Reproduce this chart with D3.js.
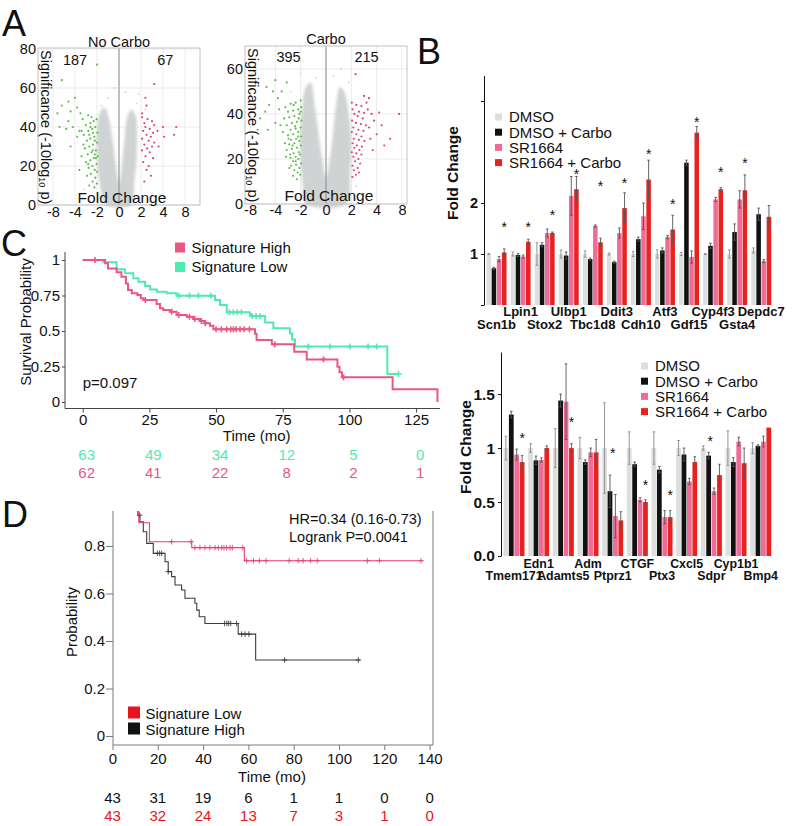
<!DOCTYPE html>
<html><head><meta charset="utf-8">
<script src="https://cdn.jsdelivr.net/npm/d3@7"></script>
<style>body{margin:0;background:#fff}svg{display:block}</style>
</head><body><svg id="chart" width="793" height="826"></svg>
<script>
// ---------------- DATA ----------------
// Panel A (volcano): x in log2 fold-change units, y = significance
const volcanoTickVals = [-3,-2,-1,0,1,2,3];
const volcanoTickLabels = ["-8","-4","-2","0","2","4","8"];
const noCarboYTicks = [0,20,40,60,80];
const carboYTicks = [0,20,40,60];
const noCarboCounts = [187, 67];
const carboCounts = [395, 215];
const noCarboCloud = [[-0.6,0],[-0.8,6],[-0.92,14],[-1.0,24],[-1.02,34],[-0.98,42],[-0.85,48],[-0.65,50],[-0.45,44],[-0.3,34],[-0.18,24],[-0.08,15],[0,11],[0.08,15],[0.16,24],[0.25,34],[0.35,44],[0.55,49],[0.75,46],[0.82,36],[0.8,24],[0.7,12],[0.55,0]];
const carboCloud = [[-0.8,0],[-0.92,8],[-1.0,18],[-1.02,30],[-0.95,42],[-0.8,52],[-0.6,54],[-0.45,44],[-0.3,32],[-0.15,20],[0,12],[0.15,20],[0.28,32],[0.4,44],[0.55,52],[0.72,50],[0.9,40],[1.0,28],[0.95,14],[0.8,0]];
const noCarboSpecks = [[-0.5,55],[0.3,58],[0.8,52],[-0.8,51],[1.2,49],[-1.6,8],[1.5,6],[0.9,57],[-0.2,60]];
const carboSpecks = [[-1.0,58],[-0.4,56],[0.3,57],[0.9,54],[-1.4,50],[1.2,8],[-1.3,5],[0.6,60]];
const noCarboGreen = [[-1.02,44],[-1.15,43],[-1.3,42],[-1.5,41],[-1.08,40],[-1.22,39],[-1.4,38],[-0.98,37],[-1.6,36],[-1.12,35],[-1.3,34],[-1.45,33],[-1.0,32],[-1.18,31],[-1.35,30],[-1.55,29],[-1.05,28],[-1.25,27],[-1.42,26],[-0.97,25],[-1.15,24],[-1.3,23],[-1.5,22],[-1.02,21],[-1.2,20],[-1.38,19],[-1.1,18],[-0.99,17],[-1.28,16],[-1.45,15],[-1.08,14],[-1.2,12],[-1.0,11],[-1.35,10],[-1.12,9],[-1.65,44],[-1.7,38],[-1.62,31],[-1.25,45],[-1.4,46],[-1.1,33],[-1.35,36],[-1.2,28],[-1.05,24],[-1.4,21],[-1.1,26],[-1.3,40],[-1.18,37],[-2.0,55],[-2.3,53],[-2.6,51],[-1.9,50],[-2.2,48],[-2.8,47],[-1.75,47],[-2.1,40],[-1.8,38],[-2.4,39],[-2.7,40],[-1.9,35],[-2.2,30],[-1.7,25],[-2.6,64],[-1.0,72],[-1.8,18],[-2.3,43]];
const noCarboPink = [[1.05,45],[1.3,44],[1.5,43],[1.15,42],[1.6,41],[1.2,40],[1.4,39],[1.1,38],[1.55,37],[1.25,36],[1.45,35],[1.05,34],[1.35,33],[1.6,32],[1.15,31],[1.5,30],[1.28,29],[1.05,28],[1.4,27],[1.2,25],[1.55,24],[1.1,22],[1.35,20],[1.25,18],[1.45,15],[1.15,12],[1.2,55],[1.25,51],[1.6,62],[1.05,47],[2.0,40],[2.05,35],[2.5,36],[2.6,40],[1.75,38],[1.8,30]];
const carboGreen = [[-1.0,46],[-1.2,45],[-1.4,44.5],[-0.98,43],[-1.1,42],[-1.3,41.5],[-1.5,41],[-1.05,40],[-1.25,39],[-1.45,38.5],[-0.97,37],[-1.15,36.5],[-1.35,36],[-1.55,35],[-1.0,34],[-1.2,33.5],[-1.4,33],[-1.1,32],[-1.3,31],[-1.5,30.5],[-0.98,30],[-1.18,29],[-1.38,28.5],[-1.05,28],[-1.25,27],[-1.45,26.5],[-0.99,26],[-1.15,25],[-1.35,24.5],[-1.55,24],[-1.08,23],[-1.28,22.5],[-1.02,22],[-1.2,21],[-1.4,20.5],[-1.1,20],[-1.3,19],[-0.98,18],[-1.18,17.5],[-1.38,17],[-1.05,16],[-1.25,15],[-1.12,14],[-1.02,13],[-1.3,12.5],[-1.15,11],[-1.6,43],[-1.65,38],[-1.7,32],[-1.62,27],[-1.58,21],[-1.45,16],[-1.08,38],[-1.22,34.5],[-1.32,26],[-1.1,30],[-1.2,19],[-1.42,22],[-1.0,41],[-1.28,44],[-1.48,29],[-1.9,47],[-2.1,50],[-2.0,55],[-2.35,52],[-1.75,50],[-2.25,44],[-2.4,41],[-1.85,42],[-2.6,38],[-2.0,36],[-2.3,33],[-1.8,35],[-2.7,33],[-1.55,54]];
const carboPink = [[1.02,45],[1.2,44],[1.4,43.5],[1.05,42],[1.3,41],[1.5,40.5],[1.12,40],[1.25,39],[1.45,38],[1.03,37],[1.18,36],[1.38,35.5],[1.58,35],[1.08,34],[1.28,33],[1.48,32.5],[1.02,32],[1.2,31],[1.4,30],[1.1,29],[1.3,28.5],[1.52,28],[1.05,27],[1.22,26],[1.42,25.5],[1.12,25],[1.32,24],[1.02,23],[1.2,22.5],[1.4,22],[1.08,21],[1.28,20],[1.15,19],[1.35,18],[1.05,17],[1.25,16],[1.1,15],[1.18,13],[1.04,12],[1.3,14],[1.65,42],[1.8,40],[1.9,37],[1.7,34],[2.0,31],[1.75,29],[2.1,40.6],[2.2,35],[1.6,45],[1.5,48],[1.7,47],[2.53,29],[2.89,40],[1.17,57.7],[2.3,26],[1.85,24]];

// Panel B
const seriesNames = ["DMSO","DMSO + Carbo","SR1664","SR1664 + Carbo"];
const genesTop = ["Scn1b","Lpin1","Stox2","Ulbp1","Tbc1d8","Ddit3","Cdh10","Atf3","Gdf15","Cyp4f3","Gsta4","Depdc7"];
const dmsoTop      = [1,1,1,1,1,1,1,1,1,1,1,1.07];
const dmsoErrTop   = [0.01,0.04,0.22,0.08,0.06,0.02,0.05,0.08,0.03,0.01,0.08,0.05];
const carboTop     = [0.72,0.98,1.18,0.97,0.90,0.84,1.29,1.07,2.79,1.16,1.43,1.78];
const carboErrTop  = [0.02,0.03,0.04,0.07,0.02,0.02,0.04,0.05,0.05,0.05,0.16,0.12];
const srTop        = [0.90,0.95,1.41,2.14,1.55,1.41,1.74,1.33,0.94,2.07,2.07,0.86];
const srErrTop     = [0.05,0.03,0.08,0.38,0.02,0.1,0.26,0.03,0.12,0.04,0.17,0.03];
const srCarboTop   = [1.03,1.24,1.41,2.27,1.23,1.90,2.46,1.48,3.38,2.27,2.25,1.73];
const srCarboErrTop= [0.07,0.05,0.02,0.25,0.08,0.3,0.38,0.28,0.12,0.03,0.3,0.22];
const starsTop     = [1.59,1.59,1.82,2.63,2.39,2.45,3.01,2.03,3.65,2.67,2.84,null];
const ticksTop = [0,1,2,4];
const tickLabelsTop = ["","1","2",""];

const genesBot = ["Tmem171","Edn1","Adamts5","Adm","Ptprz1","CTGF","Ptx3","Cxcl5","Sdpr","Cyp1b1","Bmp4"];
const dmsoBot      = [1,1,1,1,1,1,1,1,1,1,1];
const dmsoErrBot   = [0.11,0.04,0.18,0.1,0.42,0.15,0.15,0.07,0.02,0.16,0.05];
const carboBot     = [1.31,0.886,1.44,0.87,0.60,0.85,0.80,0.94,0.93,0.87,1.02];
const carboErrBot  = [0.03,0.04,0.06,0.02,0.15,0.02,0.03,0.06,0.03,0.04,0.01];
const srBot        = [0.94,0.89,1.43,0.96,0.37,0.52,0.36,0.69,0.60,1.06,1.06];
const srErrBot     = [0.05,0.02,0.35,0.04,0.2,0.02,0.06,0.03,0.03,0.04,0.05];
const srCarboBot   = [0.87,1.0,1.0,0.96,0.33,0.50,0.36,0.87,0.75,0.86,1.19];
const srCarboErrBot= [0.06,0.02,0.04,0.12,0.08,0.02,0.06,0.05,0.1,0.14,0];
const starsBot     = [1.12,null,1.27,null,0.98,0.69,0.59,null,1.09,null,null];
const starBarBot   = [3,null,3,null,1.5,3,3,null,1.3,null,null];
const ticksBot = [0,0.5,1,1.5];
const tickLabelsBot = ["0.0","0.5","1","1.5"];

// Panel C (Kaplan-Meier): [time, survival]
const cTimeTicks = [0,25,50,75,100,125];
const cProbTicks = [0,0.25,0.5,0.75,1];
const cProbLabels = ["0","0.25","0.5","0.75","1"];
const cHighKM = [[0,1],[8.4,0.977],[9.5,0.941],[12.7,0.913],[14.5,0.882],[16.2,0.835],[17,0.789],[18.4,0.765],[20.5,0.754],[21.8,0.73],[22.8,0.718],[27.7,0.69],[29,0.66],[30.2,0.648],[32.7,0.636],[35.2,0.613],[39,0.6],[41.5,0.585],[44,0.57],[45.8,0.554],[47.7,0.537],[49,0.512],[64.6,0.48],[65.2,0.437],[70.9,0.406],[79.3,0.354],[84,0.30],[95.5,0.249],[96.3,0.21],[97.2,0.174],[116.2,0.089],[133,0.089],[133,0.0]];
const cHighCens = [4.6,23.5,33.4,36,40,42,44.5,46,50,52,54,55.5,56.5,57.5,59,60.5,62.5,72,90.3,97.8];
const cLowKM = [[0,1],[7.7,0.985],[12.7,0.934],[15.8,0.906],[19,0.871],[20.9,0.847],[23.4,0.817],[25.3,0.793],[27.8,0.777],[31.5,0.765],[35.2,0.749],[49.6,0.718],[51.5,0.683],[54,0.632],[62.7,0.606],[68.4,0.56],[71.5,0.519],[77.7,0.483],[78.5,0.44],[79.6,0.39],[114.2,0.197],[118.4,0.197]];
const cLowCens = [36,40,43.4,48,55,56.5,58,59.5,63.5,65,66.5,84.6,92.7,100.2,107,110.2,118.4];
const cRiskLow = [63,49,34,12,5,0];
const cRiskHigh = [62,41,22,8,2,1];

// Panel D
const dTimeTicks = [0,20,40,60,80,100,120,140];
const dProbTicks = [0,0.2,0.4,0.6,0.8];
const dLowKM = [[0,1],[11,0.95],[11.6,0.898],[16.3,0.818],[35,0.793],[58.2,0.738],[137,0.738]];
const dLowCens = [26.1,34.7,36.4,38.6,40.8,43,45.3,46.7,48.2,49.2,50.4,51.9,52.9,57.5,59.2,62.2,64.8,67.8,78,82,84.2,87.5,90.4,112.5,117.8,136.2];
const dHighKM = [[0,1],[10.5,0.95],[11.2,0.93],[12.1,0.902],[13.6,0.86],[15.1,0.811],[18,0.769],[23.2,0.734],[24.6,0.692],[26.1,0.671],[27.6,0.636],[30.5,0.615],[32,0.58],[36.4,0.559],[37.2,0.53],[38.3,0.502],[40.8,0.474],[55.5,0.429],[63.2,0.32],[109.3,0.32]];
const dHighCens = [12,19.8,20.8,21.7,24.6,49.5,50.5,51.3,52.2,54.8,57,58.5,60.2,76,108.5];
const dRiskHigh = [43,31,19,6,1,1,0,0];
const dRiskLow = [43,32,24,13,7,3,1,0];

// ---------------- DRAWING ----------------
const FONT = '"Liberation Sans", Arial, Helvetica, sans-serif';
const svg = d3.select("#chart").style("font-family", FONT);
svg.append("rect").attr("width",793).attr("height",826).attr("fill","#fff");
const defs = svg.append("defs");
defs.append("filter").attr("id","soft").append("feGaussianBlur").attr("stdDeviation",1.4);
defs.append("clipPath").attr("id","clipD").append("rect").attr("x",113).attr("y",511).attr("width",322).attr("height",236);

function T(g, x, y, s, o = {}) {
  const t = g.append("text").attr("x", x).attr("y", y).text(s)
    .attr("font-size", o.fs || 15).attr("fill", o.fill || "#111");
  if (o.anchor) t.attr("text-anchor", o.anchor);
  if (o.bold) t.attr("font-weight", "bold");
  if (o.tr) t.attr("transform", o.tr);
  return t;
}
function styleAxis(sel, fs, bold, color) {
  sel.attr("font-family", FONT);
  sel.selectAll("text").attr("font-size", fs).attr("fill", color || "#111").attr("font-weight", bold ? "bold" : "normal");
}

// Panel letters
T(svg, 2, 36, "A", {fs: 36});
T(svg, 417, 64, "B", {fs: 36});
T(svg, 1, 256, "C", {fs: 36});
T(svg, 2, 527, "D", {fs: 36});

// ---- Volcano ----
function volcano(o) {
  const g = svg.append("g");
  const x = d3.scaleLinear().domain(o.xd).range([o.L, o.R]);
  const y = d3.scaleLinear().domain([0, o.ymax]).range([o.B, o.T]);
  g.selectAll("line.gx").data(volcanoTickVals).join("line").attr("class","gx")
    .attr("x1", d => x(d)).attr("x2", d => x(d)).attr("y1", o.T).attr("y2", o.B).attr("stroke", "#ebebeb");
  g.selectAll("line.gy").data(o.yticks).join("line").attr("class","gy")
    .attr("y1", d => y(d)).attr("y2", d => y(d)).attr("x1", o.L).attr("x2", o.R).attr("stroke", "#ebebeb");
  g.append("path").datum(o.cloud)
    .attr("d", d3.line().x(d => x(d[0])).y(d => y(d[1])).curve(d3.curveCatmullRomClosed.alpha(0.5)))
    .attr("fill", "#d0d3d3").attr("filter", "url(#soft)");
  g.selectAll("circle.sp").data(o.specks).join("circle").attr("class","sp")
    .attr("cx", d => x(d[0])).attr("cy", d => y(d[1])).attr("r", 0.9).attr("fill", "#d2d4d4");
  g.selectAll("circle.gr").data(o.green).join("circle").attr("class","gr")
    .attr("cx", d => x(d[0])).attr("cy", d => y(d[1])).attr("r", 1.1).attr("fill", "#5cbf4c");
  g.selectAll("circle.pk").data(o.pink).join("circle").attr("class","pk")
    .attr("cx", d => x(d[0])).attr("cy", d => y(d[1])).attr("r", 1.1).attr("fill", "#d9457e");
  g.append("line").attr("x1", x(0)).attr("x2", x(0)).attr("y1", o.T).attr("y2", o.B).attr("stroke", "#8a8a8a");
  g.append("rect").attr("x", o.L).attr("y", o.T).attr("width", o.R - o.L).attr("height", o.B - o.T)
    .attr("fill", "none").attr("stroke", "#c2c2c2");
  const ya = d3.axisLeft(y).tickValues(o.yticks).tickSize(0).tickPadding(2);
  g.append("g").attr("transform", `translate(${o.L},0)`).call(ya)
    .call(a => a.select(".domain").remove()).call(a => styleAxis(a, 14.5, false, "#111"));
  const xa = d3.axisBottom(x).tickValues(volcanoTickVals).tickFormat((d, i) => volcanoTickLabels[i]).tickSize(0).tickPadding(o.xpad);
  g.append("g").attr("transform", `translate(0,${o.B})`).call(xa)
    .call(a => a.select(".domain").remove()).call(a => styleAxis(a, 14.5, false, "#111"));
  T(g, x(0), o.titleY, o.title, {fs: 14.5, anchor: "middle"});
  T(g, x(o.cu[0]), o.countY, o.counts[0], {fs: 14.5, anchor: "middle"});
  T(g, x(o.cu[1]), o.countY, o.counts[1], {fs: 14.5, anchor: "middle"});
  T(g, x(0) + 3, o.fcY, "Fold Change", {fs: 15.5, anchor: "middle"});
  const yl = T(g, 0, 0, "Significance (-10log", {fs: 14.5, tr: `translate(${o.L + 3},${o.T + 2}) rotate(90)`});
  yl.append("tspan").attr("font-size", 9).attr("dy", 2).text("10");
  yl.append("tspan").attr("dy", -2).text(" p)");
}
volcano({L:38, R:200, T:48, B:205, xd:[-3.68,3.68], ymax:80.5, yticks:noCarboYTicks, cloud:noCarboCloud,
  specks:noCarboSpecks, green:noCarboGreen, pink:noCarboPink, title:"No Carbo", titleY:46.5,
  counts:noCarboCounts, cu:[-2,2.1], countY:65, fcY:203, xpad:1.5});
volcano({L:245, R:407, T:46, B:204, xd:[-3.2,3.2], ymax:70.2, yticks:carboYTicks, cloud:carboCloud,
  specks:carboSpecks, green:carboGreen, pink:carboPink, title:"Carbo", titleY:43.5,
  counts:carboCounts, cu:[-1.48,1.6], countY:62, fcY:201, xpad:0.5});

// ---- Bar charts ----
const barColors = ["#dcdfde", "#111111", "#f06b97", "#e8231f"];
function bars(o) {
  const g = svg.append("g");
  const x0 = d3.scaleBand().domain(o.genes).range(o.xr).paddingInner(o.pi).paddingOuter(0);
  const x1 = d3.scaleBand().domain([0,1,2,3]).range([0, x0.bandwidth()]).paddingInner(0.12);
  const y = d3.scaleLinear().domain(o.yd).range([o.yb, o.yt]);
  const bw = x1.bandwidth();
  o.series.forEach((s, si) => {
    g.selectAll(null).data(o.genes).join("rect")
      .attr("x", d => x0(d) + x1(si)).attr("width", bw)
      .attr("y", (d, i) => y(s.v[i])).attr("height", (d, i) => y(0) - y(s.v[i]))
      .attr("fill", barColors[si]);
  });
  o.series.forEach((s, si) => {
    const col = si === 0 ? "#8a8a8a" : "#555";
    o.genes.forEach((gname, i) => {
      const e = s.e[i]; if (!e) return;
      const cx = x0(gname) + x1(si) + bw / 2;
      g.append("line").attr("x1", cx).attr("x2", cx).attr("y1", y(s.v[i] - e)).attr("y2", y(s.v[i] + e)).attr("stroke", col).attr("stroke-width", 0.9);
      [s.v[i] - e, s.v[i] + e].forEach(v => g.append("line").attr("x1", cx - 1.3).attr("x2", cx + 1.3).attr("y1", y(v)).attr("y2", y(v)).attr("stroke", col).attr("stroke-width", 0.9));
    });
  });
  o.stars.forEach((sv, i) => {
    if (sv == null) return;
    const bi = o.starBar ? o.starBar[i] : 3;
    const cx = x0(o.genes[i]) + x1.step() * bi + bw / 2;
    T(g, cx, y(sv) + 8, "*", {fs: 14, anchor: "middle"});
  });
  const ax = d3.axisLeft(y).tickValues(o.ticks).tickFormat((d, i) => o.tickLabels[i]).tickSize(3).tickSizeOuter(0).tickPadding(3);
  g.append("g").attr("transform", `translate(${o.ax},0)`).call(ax)
    .call(a => styleAxis(a, o.tfs, true, "#111"))
    .call(a => a.selectAll("line,path").attr("stroke", "#111"));
  T(g, 0, 0, "Fold Change", {fs: 15.5, bold: true, anchor: "middle", tr: `translate(${o.ylx},${o.yly}) rotate(-90)`});
  o.genes.forEach((gname, i) => {
    const cx = x0(gname) + x0.bandwidth() / 2;
    T(g, cx, i % 2 === 0 ? o.rowB : o.rowA, gname, {fs: o.gfs, bold: true, anchor: "middle"});
  });
  seriesNames.forEach((n, i) => {
    const cy = o.legY + i * 15.2;
    g.append("rect").attr("x", o.legX).attr("y", cy - 3.5).attr("width", 7).attr("height", 7).attr("fill", barColors[i]);
    T(g, o.legX + 14, cy + 5.3, n, {fs: 15});
  });
}
bars({genes: genesTop, xr: [486.5, 771.2], pi: 0.169, yd: [0, 4.5], yb: 305, yt: 75.5,
  series: [{v: dmsoTop, e: dmsoErrTop}, {v: carboTop, e: carboErrTop}, {v: srTop, e: srErrTop}, {v: srCarboTop, e: srCarboErrTop}],
  stars: starsTop, ticks: ticksTop, tickLabels: tickLabelsTop, tfs: 14.5, ax: 484, gfs: 13,
  ylx: 458, yly: 173, rowA: 316, rowB: 328.5, legX: 495, legY: 117});
bars({genes: genesBot, xr: [503.5, 771.2], pi: 0.149, yd: [0, 1.89], yb: 556, yt: 352,
  series: [{v: dmsoBot, e: dmsoErrBot}, {v: carboBot, e: carboErrBot}, {v: srBot, e: srErrBot}, {v: srCarboBot, e: srCarboErrBot}],
  stars: starsBot, starBar: starBarBot, ticks: ticksBot, tickLabels: tickLabelsBot, tfs: 15.5, ax: 501, gfs: 12.4,
  ylx: 471, yly: 447, rowA: 567.5, rowB: 580, legX: 641, legY: 366});

// ---- KM helpers ----
function stepVal(steps, t) { let v = steps[0][1]; for (const s of steps) { if (s[0] <= t) v = s[1]; else break; } return v; }
function km(g, x, y, steps, cens, color, w, cs) {
  g.append("path").datum(steps).attr("d", d3.line().x(d => x(d[0])).y(d => y(d[1])).curve(d3.curveStepAfter))
    .attr("fill", "none").attr("stroke", color).attr("stroke-width", w);
  cens.forEach(t => {
    const cx = x(t), cy = y(stepVal(steps, t));
    g.append("line").attr("x1", cx - cs).attr("x2", cx + cs).attr("y1", cy).attr("y2", cy).attr("stroke", color).attr("stroke-width", w * 0.8);
    g.append("line").attr("x1", cx).attr("x2", cx).attr("y1", cy - cs).attr("y2", cy + cs).attr("stroke", color).attr("stroke-width", w * 0.8);
  });
}

// ---- Panel C ----
{
  const g = svg.append("g");
  const teal = "#4feab0", pink = "#ea5781";
  const x = d3.scaleLinear().domain([0, 125]).range([82.7, 416.1]);
  const y = d3.scaleLinear().domain([0, 1]).range([402, 260]);
  g.append("line").attr("x1", 65).attr("x2", 65).attr("y1", 252).attr("y2", 408.5).attr("stroke", "#444");
  g.append("line").attr("x1", 65).attr("x2", 440).attr("y1", 408.5).attr("y2", 408.5).attr("stroke", "#444");
  const ya = d3.axisLeft(y).tickValues(cProbTicks).tickFormat((d, i) => cProbLabels[i]).tickSize(3).tickPadding(2);
  g.append("g").attr("transform", "translate(65,0)").call(ya).call(a => a.select(".domain").remove())
    .call(a => styleAxis(a, 15, false, "#111")).call(a => a.selectAll("line").attr("stroke", "#444"));
  const xa = d3.axisBottom(x).tickValues(cTimeTicks).tickSize(4).tickPadding(2);
  g.append("g").attr("transform", "translate(0,408.5)").call(xa).call(a => a.select(".domain").remove())
    .call(a => styleAxis(a, 15, false, "#111")).call(a => a.selectAll("line").attr("stroke", "#444"));
  km(g, x, y, cLowKM, cLowCens, teal, 2, 3);
  km(g, x, y, cHighKM, cHighCens, pink, 2, 3);
  T(g, 82.7, 388, "p=0.097", {fs: 15});
  T(g, 0, 0, "Survival Probability", {fs: 15, anchor: "middle", tr: "translate(31,322) rotate(-90)"});
  T(g, 256.7, 441, "Time (mo)", {fs: 15, anchor: "middle"});
  cTimeTicks.forEach((t, i) => {
    T(g, x(t) + 4, 460, cRiskLow[i], {fs: 15, anchor: "middle", fill: teal});
    T(g, x(t) + 4, 477.5, cRiskHigh[i], {fs: 15, anchor: "middle", fill: pink});
  });
  g.append("rect").attr("x", 175).attr("y", 242.5).attr("width", 10).attr("height", 10).attr("fill", pink);
  T(g, 191.5, 252.5, "Signature High", {fs: 15});
  g.append("rect").attr("x", 175).attr("y", 262).attr("width", 10).attr("height", 10).attr("fill", teal);
  T(g, 191.5, 272, "Signature Low", {fs: 15});
}

// ---- Panel D ----
{
  const g = svg.append("g");
  const red = "#e4416f", dark = "#3c3c3c", axc = "#7a7a7a";
  const x = d3.scaleLinear().domain([0, 140]).range([112.5, 429.6]);
  const y = d3.scaleLinear().domain([0, 1]).range([736, 498.5]);
  g.append("line").attr("x1", 113).attr("x2", 113).attr("y1", 511).attr("y2", 745).attr("stroke", axc);
  g.append("line").attr("x1", 113).attr("x2", 433).attr("y1", 745).attr("y2", 745).attr("stroke", axc);
  g.append("line").attr("x1", 433).attr("x2", 433).attr("y1", 511).attr("y2", 745).attr("stroke", axc);
  const ya = d3.axisLeft(y).tickValues(dProbTicks).tickFormat(d => d === 0 ? "0" : d3.format(".1f")(d)).tickSize(7).tickPadding(1);
  g.append("g").attr("transform", "translate(113,0)").call(ya).call(a => a.select(".domain").remove())
    .call(a => styleAxis(a, 15, false, "#111")).call(a => a.selectAll("line").attr("stroke", axc));
  const xa = d3.axisBottom(x).tickValues(dTimeTicks).tickSize(5).tickPadding(3);
  g.append("g").attr("transform", "translate(0,745)").call(xa).call(a => a.select(".domain").remove())
    .call(a => styleAxis(a, 15, false, "#111")).call(a => a.selectAll("line").attr("stroke", axc));
  const cg = g.append("g").attr("clip-path", "url(#clipD)");
  km(cg, x, y, dHighKM, dHighCens, dark, 1.1, 2.8);
  km(cg, x, y, dLowKM, dLowCens, red, 1.1, 2.8);
  T(g, 289, 524, "HR=0.34 (0.16-0.73)", {fs: 14.5});
  T(g, 289, 542, "Logrank P=0.0041", {fs: 14.5});
  T(g, 0, 0, "Probability", {fs: 15, anchor: "middle", tr: "translate(77,622) rotate(-90)"});
  T(g, 272, 782, "Time (mo)", {fs: 15, anchor: "middle"});
  dTimeTicks.forEach((t, i) => {
    T(g, x(t), 803, dRiskHigh[i], {fs: 15, anchor: "middle", fill: "#111"});
    T(g, x(t), 820.5, dRiskLow[i], {fs: 15, anchor: "middle", fill: "#e8141c"});
  });
  g.append("rect").attr("x", 128).attr("y", 706.5).attr("width", 12).attr("height", 12).attr("fill", "#e8141c");
  T(g, 145.5, 719, "Signature Low", {fs: 15});
  g.append("rect").attr("x", 128).attr("y", 722.5).attr("width", 12).attr("height", 12).attr("fill", "#111");
  T(g, 145.5, 735, "Signature High", {fs: 15});
}
</script></body></html>
